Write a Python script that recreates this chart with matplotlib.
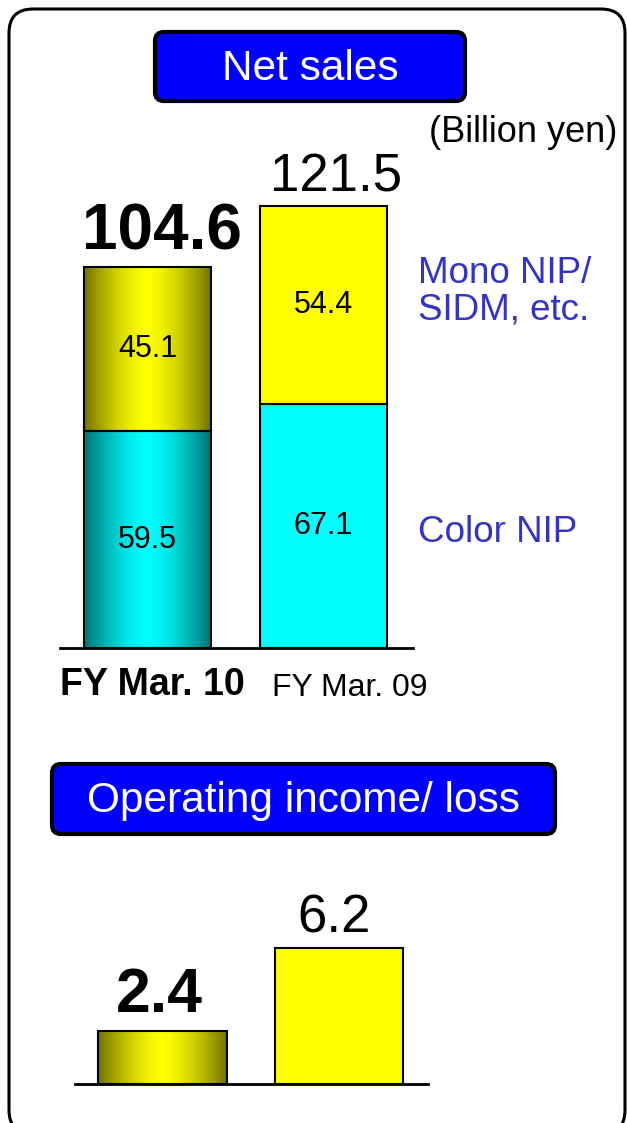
import numpy as np
import matplotlib.pyplot as plt
from matplotlib.patches import FancyBboxPatch

plt.rcParams['font.family'] = ['Liberation Sans', 'DejaVu Sans']

# ---- data ----
years = ['FY Mar. 10', 'FY Mar. 09']
color_nip = [59.5, 67.1]
mono_nip = [45.1, 54.4]
net_sales = [104.6, 121.5]
op_income = [2.4, 6.2]
segment_names = ['Color NIP', 'Mono NIP/\nSIDM, etc.']

W, H = 627, 1123
fig = plt.figure(figsize=(W / 100, H / 100), dpi=100)


def px_axes(x0, x1, ybot, ytop):
    """axes placed by pixel box (y measured from top)"""
    return fig.add_axes([x0 / W, 1 - ybot / H, (x1 - x0) / W, (ybot - ytop) / H])


def gradient_bar(ax, bar, rgb):
    """fill a bar with the dark-edge / bright-centre cylinder shading"""
    t = np.linspace(0, 1, 200)
    b = 1 - 0.55 * np.abs(2 * t - 1.0) ** 1.5
    b = np.clip(b, 0.45, 1)
    img = np.array(rgb)[None, None, :] * b[None, :, None]
    x, y = bar.get_x(), bar.get_y()
    im = ax.imshow(img, extent=[x, x + bar.get_width(), y, y + bar.get_height()],
                   aspect='auto', zorder=bar.get_zorder() - 0.5, interpolation='bilinear')
    im.set_clip_path(bar)
    bar.set_facecolor('none')


def clean(ax):
    for s in ['top', 'left', 'right']:
        ax.spines[s].set_visible(False)
    ax.spines['bottom'].set_linewidth(2)
    ax.set_xticks([])
    ax.set_yticks([])
    ax.patch.set_alpha(0)


yellow = (1, 1, 0)
cyan = (0, 1, 1)
xpos = np.arange(2)

# ---- net sales ----
ax1 = px_axes(60, 413, 648, 140)
clean(ax1)
ax1.set_xlim(-0.497, 1.509)
ax1.set_ylim(0, (648 - 140) / 3.64)
low = ax1.bar(xpos, color_nip, width=0.72, color=[cyan, cyan], edgecolor='black', linewidth=1.5, zorder=3)
up = ax1.bar(xpos, mono_nip, bottom=color_nip, width=0.72, color=[yellow, yellow],
             edgecolor='black', linewidth=1.5, zorder=3)
gradient_bar(ax1, low[0], cyan)
gradient_bar(ax1, up[0], yellow)
for i in range(2):
    ax1.text(i, color_nip[i] / 2, f'{color_nip[i]:.1f}', ha='center', va='center', fontsize=22, zorder=5)
    ax1.text(i, color_nip[i] + mono_nip[i] / 2, f'{mono_nip[i]:.1f}', ha='center', va='center',
             fontsize=22, zorder=5)
ax1.annotate(f'{net_sales[0]:.1f}', (0.08, net_sales[0]), xytext=(0, 13), textcoords='offset points',
             ha='center', va='baseline', fontsize=46, fontweight='bold', annotation_clip=False)
ax1.annotate(f'{net_sales[1]:.1f}', (1.07, net_sales[1]), xytext=(0, 10), textcoords='offset points',
             ha='center', va='baseline', fontsize=38, annotation_clip=False)

# ---- operating income ----
ax2 = px_axes(75, 428, 1084, 880)
clean(ax2)
ax2.set_xlim(-0.496, 1.504)
ax2.set_ylim(0, (1084 - 880) / 21.9)
ob = ax2.bar(xpos, op_income, width=0.73, color=[yellow, yellow], edgecolor='black', linewidth=1.5, zorder=3)
gradient_bar(ax2, ob[0], yellow)
ax2.annotate(f'{op_income[0]:.1f}', (-0.02, op_income[0]), xytext=(0, 14), textcoords='offset points',
             ha='center', va='baseline', fontsize=45, fontweight='bold', annotation_clip=False)
ax2.annotate(f'{op_income[1]:.1f}', (-0.03 + 1, op_income[1]), xytext=(0, 11), textcoords='offset points',
             ha='center', va='baseline', fontsize=38, annotation_clip=False)

# ---- overlay: frame, headers, labels ----
ov = fig.add_axes([0, 0, 1, 1], zorder=-1)
ov.set_xlim(0, W)
ov.set_ylim(H, 0)
ov.axis('off')

ov.add_patch(FancyBboxPatch((9, 9), 616, 1125, boxstyle='round,pad=0,rounding_size=24',
                            facecolor='white', edgecolor='black', linewidth=2.2, clip_on=False))
ov2 = fig.add_axes([0, 0, 1, 1], zorder=5)
ov2.set_xlim(0, W)
ov2.set_ylim(H, 0)
ov2.axis('off')

for (x0, y0, x1, y1, txt) in [(155, 32, 465, 101, 'Net sales'),
                              (52, 764, 555, 834, 'Operating income/ loss')]:
    ov2.add_patch(FancyBboxPatch((x0, y0), x1 - x0, y1 - y0, boxstyle='round,pad=0,rounding_size=9',
                                 facecolor='#0000ff', edgecolor='black', linewidth=3))
    ov2.text((x0 + x1) / 2, (y0 + y1) / 2 + 2, txt, color='white', fontsize=30.5, ha='center', va='center')

ov2.text(617, 133, '(Billion yen)', fontsize=26, ha='right', va='center')
ov2.text(418, 292, segment_names[1], fontsize=26.5, color='#3333cc', ha='left', va='center',
         linespacing=1.05)
ov2.text(418, 532, segment_names[0], fontsize=26.5, color='#3333cc', ha='left', va='center')
ov2.text(152, 685, years[0], fontsize=27, fontweight='bold', ha='center', va='center')
ov2.text(350, 688, years[1], fontsize=23, ha='center', va='center')

fig.savefig('out.png', dpi=100)
